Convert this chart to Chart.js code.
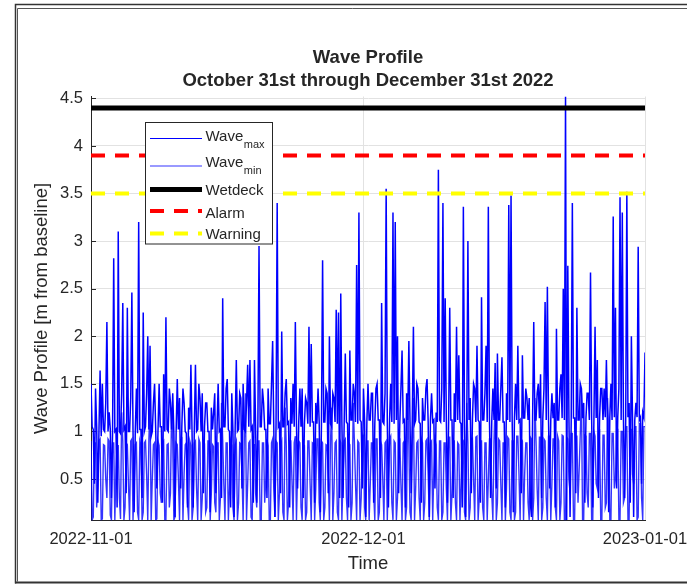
<!DOCTYPE html>
<html>
<head>
<meta charset="utf-8">
<script src="https://cdn.jsdelivr.net/npm/chart.js@4.4.1/dist/chart.umd.min.js"></script>
<style>
  html, body { margin: 0; padding: 0; background: #fff; }
  #wrap { width: 687px; height: 587px; }
</style>
</head>
<body>
<div id="wrap"><canvas id="grafico-ondas" width="687" height="587"></canvas></div>
<script>
// amostragem a cada 3 h, dia 0 = 2022-11-01
const horasAmostra = 3;
const xMin = 0, xMax = 61;
const xTickValues = [0, 30, 61];
const xTickLabels = ["2022-11-01", "2022-12-01", "2023-01-01"];
const yTickValues = [0.5, 1, 1.5, 2, 2.5, 3, 3.5, 4, 4.5];
const yTickLabels = ["0.5", "1", "1.5", "2", "2.5", "3", "3.5", "4", "4.5"];

const titulo = ["Wave Profile", "October 31st through December 31st 2022"];
const tituloX = "Time";
const tituloY = "Wave Profile [m from baseline]";

const legendaNomes = ["Wave", "Wave", "Wetdeck", "Alarm", "Warning"];
const legendaSub = ["max", "min", "", "", ""];

const wetdeck = 4.4;
const alarm = 3.9;
const warning = 3.5;

const waveMax = [
  1.50, 1.05, 1.02, 0.45, 1.45, 1.05, 0.25, 1.00, 1.64, 0.95,
  1.50, 1.02, 1.00, 1.30, 2.15, 1.00, 1.20, 1.02, 0.30, 1.00,
  2.82, 1.00, 1.02, 0.20, 3.10, 1.00, 0.98, 1.40, 2.35, 1.02,
  1.05, 0.35, 2.30, 1.00, 1.00, 1.35, 2.46, 1.02, 0.15, 1.00,
  1.45, 0.98, 3.20, 1.02, 1.02, 0.30, 2.25, 1.00, 1.05, 1.40,
  2.00, 1.02, 1.90, 0.95, 1.00, 1.30, 1.50, 1.02, 0.40, 1.00,
  1.50, 1.05, 1.05, 0.25, 1.60, 1.00, 2.20, 1.02, 1.00, 1.45,
  1.30, 1.02, 1.40, 0.98, 0.10, 1.00, 1.55, 1.02, 1.35, 0.40,
  1.05, 1.45, 1.30, 1.00, 0.98, 0.20, 1.25, 1.02, 1.70, 1.00,
  0.20, 1.02, 1.70, 1.00, 1.02, 1.50, 1.35, 1.00, 1.40, 0.35,
  1.05, 1.30, 1.30, 1.00, 1.00, 0.15, 1.25, 1.02, 1.20, 1.40,
  0.35, 1.02, 1.50, 1.00, 1.02, 0.30, 2.40, 1.05, 1.05, 1.45,
  1.55, 1.02, 1.00, 0.20, 1.40, 1.02, 0.10, 1.05, 1.75, 1.00,
  1.02, 1.40, 1.35, 0.40, 1.50, 1.02, 1.00, 1.30, 1.70, 1.05,
  1.75, 1.02, 1.05, 0.25, 1.75, 1.05, 0.25, 1.08, 2.95, 1.05,
  1.05, 1.45, 1.30, 1.02, 1.02, 0.30, 1.45, 1.08, 1.08, 1.50,
  1.95, 1.05, 0.10, 1.08, 3.40, 1.05, 1.08, 0.35, 2.05, 1.05,
  1.05, 1.40, 1.55, 1.08, 1.10, 0.20, 1.35, 1.08, 1.50, 1.05,
  2.15, 1.08, 0.40, 1.10, 1.45, 1.05, 1.45, 0.30, 1.08, 1.35,
  1.30, 1.08, 2.10, 1.05, 1.92, 1.10, 1.10, 0.25, 1.30, 1.08,
  1.45, 1.10, 0.15, 1.08, 2.80, 1.10, 1.10, 1.45, 1.40, 0.35,
  2.00, 1.08, 1.05, 1.40, 1.35, 1.10, 2.28, 1.08, 2.25, 0.30,
  2.45, 1.10, 0.30, 1.08, 1.82, 1.10, 1.08, 0.20, 1.85, 1.12,
  1.12, 1.50, 1.40, 1.10, 2.75, 1.08, 3.30, 1.12, 1.10, 0.40,
  1.45, 1.12, 0.10, 1.10, 1.50, 1.12, 1.12, 1.40, 1.40, 0.25,
  1.08, 1.45, 1.50, 1.12, 1.12, 0.30, 2.35, 1.10, 1.08, 1.40,
  3.55, 1.10, 0.20, 1.12, 1.50, 1.10, 3.30, 1.08, 3.20, 1.12,
  2.00, 0.35, 1.08, 1.45, 1.85, 1.10, 1.12, 0.20, 1.40, 1.12,
  1.95, 1.10, 0.35, 1.12, 2.10, 1.08, 1.12, 1.50, 1.45, 1.10,
  1.08, 0.25, 1.35, 1.12, 1.12, 1.45, 1.55, 1.10, 0.10, 1.12,
  1.40, 1.10, 1.12, 0.40, 1.20, 1.10, 3.75, 1.12, 1.10, 1.45,
  3.40, 1.10, 2.40, 1.12, 0.25, 1.10, 2.30, 1.12, 1.12, 0.30,
  1.40, 1.10, 2.10, 1.12, 1.80, 1.10, 1.08, 0.20, 3.36, 1.12,
  0.10, 1.10, 3.00, 1.12, 1.35, 0.35, 1.12, 1.50, 1.45, 1.10,
  1.90, 1.12, 1.10, 0.25, 2.41, 1.12, 1.12, 1.40, 1.90, 1.10,
  3.36, 1.12, 0.30, 1.10, 1.45, 1.12, 1.72, 0.40, 1.82, 1.12,
  1.12, 1.45, 1.78, 1.10, 1.10, 0.20, 1.40, 1.12, 3.38, 1.10,
  3.48, 1.12, 0.15, 1.14, 1.50, 1.12, 1.90, 1.10, 1.12, 0.35,
  1.80, 1.14, 1.14, 1.45, 1.35, 1.12, 1.35, 0.25, 0.10, 1.14,
  2.15, 1.12, 1.12, 1.40, 1.50, 1.14, 1.60, 0.30, 1.14, 1.45,
  2.36, 1.12, 2.52, 1.14, 0.40, 1.12, 1.40, 1.14, 1.30, 0.20,
  2.08, 1.12, 1.12, 1.45, 1.60, 1.14, 2.50, 1.12, 4.52, 0.07,
  2.74, 1.14, 0.10, 1.12, 3.40, 1.14, 1.14, 0.35, 2.30, 1.12,
  1.12, 1.50, 1.45, 1.14, 1.30, 0.25, 1.14, 1.40, 1.40, 1.12,
  2.67, 1.14, 0.20, 1.12, 2.10, 1.14, 1.75, 0.30, 1.14, 1.45,
  1.45, 1.12, 1.45, 1.15, 1.75, 1.12, 0.15, 1.15, 1.50, 1.12,
  3.26, 1.15, 2.30, 0.40, 1.15, 1.45, 3.46, 1.12, 3.30, 1.15,
  0.30, 1.12, 3.52, 1.15, 1.30, 0.25, 2.00, 1.15, 0.10, 1.12,
  1.30, 1.15, 2.94, 1.12, 1.15, 0.45, 1.20, 1.15, 1.83
];

const waveMin = [
  0.90, 0.07, 0.10, 0.88, 0.88, 0.20, 0.45, 0.90, 0.92, 0.07,
  0.08, 0.86, 0.85, 0.50, 0.30, 0.92, 0.90, 0.12, 0.07, 0.88,
  0.88, 0.07, 0.60, 0.85, 0.85, 0.30, 0.08, 1.20, 0.90, 0.07,
  0.20, 0.88, 0.86, 0.45, 0.07, 0.90, 0.92, 0.07, 0.40, 0.86,
  0.88, 0.15, 0.07, 0.90, 0.85, 0.07, 0.15, 0.88, 0.90, 0.55,
  0.07, 0.92, 1.30, 0.07, 0.50, 0.86, 0.88, 0.07, 0.08, 0.90,
  0.85, 0.35, 0.25, 0.88, 0.90, 0.07, 0.07, 0.86, 0.87, 0.20,
  0.35, 1.25, 0.90, 0.07, 0.10, 0.88, 0.86, 0.50, 0.07, 0.90,
  0.92, 0.07, 0.55, 0.86, 0.88, 0.25, 0.07, 0.90, 0.85, 0.07,
  0.20, 0.88, 0.90, 0.40, 0.07, 0.92, 0.88, 0.07, 0.30, 0.85,
  0.86, 0.15, 0.20, 0.90, 0.90, 0.07, 0.35, 0.86, 0.84, 0.25,
  0.15, 0.88, 0.88, 0.07, 0.30, 1.30, 0.92, 0.45, 0.07, 0.88,
  0.88, 0.07, 0.40, 0.90, 0.85, 0.20, 0.07, 0.86, 0.90, 0.07,
  0.25, 0.88, 0.87, 0.55, 0.07, 0.90, 1.40, 0.07, 0.45, 0.88,
  0.90, 0.10, 0.07, 0.86, 0.86, 0.35, 0.20, 0.90, 0.90, 0.07,
  0.07, 0.88, 0.88, 0.25, 0.50, 0.92, 0.85, 0.07, 0.07, 0.88,
  0.92, 0.40, 0.10, 0.90, 0.88, 0.07, 0.35, 0.86, 0.90, 0.15,
  0.07, 1.25, 0.86, 0.07, 0.25, 0.90, 0.90, 0.50, 0.07, 0.88,
  0.95, 0.07, 0.60, 0.90, 0.88, 0.20, 0.07, 0.86, 0.85, 0.07,
  0.15, 0.90, 0.90, 0.45, 0.07, 0.88, 0.87, 0.07, 0.40, 0.92,
  0.92, 0.25, 0.07, 0.90, 0.88, 0.07, 0.20, 0.86, 0.85, 0.55,
  0.07, 0.90, 1.25, 0.07, 0.35, 0.88, 0.90, 0.15, 0.07, 0.92,
  0.88, 0.07, 0.50, 0.90, 0.92, 0.30, 0.07, 0.88, 0.86, 0.07,
  0.25, 1.30, 0.90, 0.45, 0.07, 0.90, 0.88, 0.07, 0.30, 0.92,
  0.95, 0.20, 0.07, 0.90, 0.90, 0.07, 0.45, 0.88, 0.88, 0.35,
  0.07, 0.92, 0.92, 0.07, 0.15, 0.90, 0.86, 0.50, 0.07, 0.88,
  0.90, 0.07, 0.55, 0.92, 0.95, 0.25, 0.07, 0.90, 0.88, 0.07,
  0.30, 0.92, 0.92, 0.45, 0.07, 0.88, 0.90, 0.07, 0.20, 1.35,
  0.86, 0.15, 0.07, 0.90, 1.35, 0.07, 0.40, 0.88, 0.90, 0.30,
  0.07, 0.92, 0.88, 0.07, 0.25, 0.90, 0.92, 0.55, 0.07, 0.88,
  0.90, 0.07, 0.60, 0.92, 0.86, 0.20, 0.07, 0.90, 0.90, 0.07,
  0.15, 0.88, 0.88, 0.40, 0.07, 0.94, 0.94, 0.07, 0.35, 0.90,
  0.90, 0.25, 0.07, 0.88, 0.86, 0.07, 0.45, 0.92, 0.90, 0.15,
  0.07, 1.30, 0.88, 0.07, 0.20, 0.90, 0.92, 0.50, 0.07, 0.94,
  0.95, 0.07, 0.30, 0.90, 0.90, 0.20, 0.07, 0.88, 0.88, 0.07,
  0.50, 0.92, 0.92, 0.35, 0.07, 0.90, 1.30, 0.07, 0.25, 0.92,
  0.90, 0.45, 0.07, 0.88, 0.88, 0.07, 0.40, 0.94, 0.92, 0.15,
  0.07, 0.90, 0.90, 0.07, 0.15, 0.95, 0.95, 0.55, 0.07, 0.92,
  0.90, 0.07, 0.55, 0.88, 0.88, 0.25, 0.07, 0.94, 0.92, 0.07,
  0.30, 1.35, 0.90, 0.40, 0.07, 0.94, 0.94, 0.07, 0.20, 0.92,
  0.90, 0.30, 0.07, 0.95, 0.95, 0.07, 0.45, 0.92, 0.92, 0.20,
  0.07, 0.95, 0.90, 0.07, 0.25, 0.96, 0.95, 0.07, 0.07, 0.94,
  0.92, 0.50, 0.35, 0.98, 0.98, 0.07, 0.07, 0.95, 0.95, 0.25,
  0.60, 0.98, 1.40, 0.07, 0.07, 0.96, 0.95, 0.35, 0.20, 0.98,
  0.98, 0.07, 0.07, 1.00, 0.95, 0.45, 0.40, 0.98, 1.00, 0.07,
  0.07, 0.96, 0.96, 0.20, 0.25, 1.35, 1.00, 0.07, 0.07, 0.98,
  0.98, 0.40, 0.50, 1.02, 1.02, 0.07, 0.07, 1.00, 1.00, 0.25,
  0.30, 1.05, 1.05, 0.07, 0.07, 1.02, 1.02, 0.55, 0.45, 1.05,
  1.05, 0.07, 0.10, 1.08, 1.08, 0.30, 0.07, 1.05, 1.05
];

const fonte = "'Liberation Sans', Arial, Helvetica, sans-serif";
const corTexto = "#262626";
const corGrade = "#e2e2e2";

const tempos = waveMax.map((_, i) => i * horasAmostra / 24);

function serie(valores) {
  return valores.map((v, i) => ({ x: tempos[i], y: v }));
}

function linha(nivel) {
  return [{ x: xMin, y: nivel }, { x: xMax, y: nivel }];
}

// estilos da legenda (o traço dos dados no gráfico é um pouco mais grosso)
const estilos = [
  { cor: "#0000ff", largura: 1, traco: [] },
  { cor: "rgba(0,0,255,0.8)", largura: 1, traco: [] },
  { cor: "#000000", largura: 5, traco: [] },
  { cor: "#ff0000", largura: 4, traco: [14, 10] },
  { cor: "#ffff00", largura: 4, traco: [14, 10] }
];

const molduraPlugin = {
  id: "moldura",
  beforeDraw(chart) {
    const c = chart.ctx;
    c.save();
    c.fillStyle = "#fff";
    c.fillRect(0, 0, chart.width, chart.height);
    c.restore();
  },
  beforeDatasetsDraw(chart) {
    const c = chart.ctx;
    const area = chart.chartArea;
    const y = chart.scales.y;
    c.save();
    c.strokeStyle = corTexto;
    c.lineWidth = 1;
    yTickValues.forEach(v => {
      const py = Math.round(y.getPixelForValue(v)) + 0.5;
      c.beginPath();
      c.moveTo(area.left, py);
      c.lineTo(area.left + 5, py);
      c.stroke();
    });
    c.restore();
  },
  afterDraw(chart) {
    const c = chart.ctx;
    const area = chart.chartArea;
    const cx = (area.left + area.right) / 2;
    const cy = (area.top + area.bottom) / 2;

    c.save();
    c.fillStyle = corTexto;
    c.textAlign = "center";
    c.textBaseline = "middle";
    c.font = `bold 18.5px ${fonte}`;
    c.fillText(titulo[0], cx, 57.5);
    c.fillText(titulo[1], cx, 80.5);
    c.font = `18.5px ${fonte}`;
    c.fillText(tituloX, cx, 564);
    c.translate(42, cy);
    c.rotate(-Math.PI / 2);
    c.fillText(tituloY, 0, 0);
    c.restore();

    // legenda
    const lx = 145.5, ly = 122.5, lw = 127, lh = 121.5;
    const linhasY = [138.5, 166, 189.5, 211, 233.5];
    const baseTexto = [140.5, 166.5, 195, 217.5, 239];
    c.save();
    c.fillStyle = "#fff";
    c.fillRect(lx, ly, lw, lh);
    c.strokeStyle = corTexto;
    c.lineWidth = 1;
    c.strokeRect(lx, ly, lw, lh);
    legendaNomes.forEach((nome, i) => {
      const est = estilos[i];
      c.strokeStyle = est.cor;
      c.lineWidth = est.largura;
      c.setLineDash(est.traco);
      c.beginPath();
      c.moveTo(150, linhasY[i]);
      c.lineTo(202, linhasY[i]);
      c.stroke();
      c.setLineDash([]);
      c.fillStyle = corTexto;
      c.textAlign = "left";
      c.textBaseline = "alphabetic";
      c.font = `15px ${fonte}`;
      c.fillText(nome, 205.5, baseTexto[i]);
      if (legendaSub[i]) {
        const w = c.measureText(nome).width;
        c.font = `11px ${fonte}`;
        c.fillText(legendaSub[i], 205.5 + w + 0.5, baseTexto[i] + 7.5);
      }
    });
    c.restore();

    // moldura da figura
    c.save();
    c.strokeStyle = "#333";
    c.lineWidth = 1.5;
    c.beginPath();
    c.moveTo(15.5, 583.5);
    c.lineTo(15.5, 4.5);
    c.lineTo(687, 4.5);
    c.stroke();
    c.strokeStyle = "#555";
    c.lineWidth = 1;
    c.beginPath();
    c.moveTo(17.5, 581.5);
    c.lineTo(17.5, 8.5);
    c.lineTo(687, 8.5);
    c.stroke();
    c.strokeStyle = "#333";
    c.lineWidth = 2;
    c.beginPath();
    c.moveTo(15, 582.5);
    c.lineTo(687, 582.5);
    c.stroke();
    c.restore();
  }
};

const ctx = document.getElementById("grafico-ondas").getContext("2d");

new Chart(ctx, {
  type: "line",
  data: {
    datasets: [
      { label: "Warning", data: linha(warning), borderColor: estilos[4].cor, borderWidth: estilos[4].largura, borderDash: estilos[4].traco, order: 0 },
      { label: "Alarm", data: linha(alarm), borderColor: estilos[3].cor, borderWidth: estilos[3].largura, borderDash: estilos[3].traco, order: 1 },
      { label: "Wetdeck", data: linha(wetdeck), borderColor: estilos[2].cor, borderWidth: estilos[2].largura, order: 2 },
      { label: "Wave min", data: serie(waveMin), borderColor: estilos[1].cor, borderWidth: 1.4, order: 3 },
      { label: "Wave max", data: serie(waveMax), borderColor: estilos[0].cor, borderWidth: 1.5, order: 4 }
    ]
  },
  options: {
    responsive: false,
    animation: false,
    devicePixelRatio: 1,
    layout: { padding: { top: 96.5, right: 42, left: 0, bottom: 0 } },
    elements: { point: { radius: 0 }, line: { tension: 0 } },
    plugins: {
      legend: { display: false },
      title: { display: false },
      tooltip: { enabled: false }
    },
    scales: {
      x: {
        type: "linear",
        min: xMin,
        max: xMax,
        afterBuildTicks: s => { s.ticks = xTickValues.map(v => ({ value: v })); },
        afterFit: s => { s.height = 66.7; s.paddingLeft = 0; s.paddingRight = 0; },
        ticks: {
          callback: (v, i) => xTickLabels[i],
          font: { family: fonte, size: 16.5 },
          color: corTexto,
          padding: 9,
          maxRotation: 0,
          autoSkip: false
        },
        grid: { color: corGrade, drawTicks: false },
        border: { display: true, color: corTexto, width: 1 }
      },
      y: {
        min: 0.066,
        max: 4.52,
        afterBuildTicks: s => { s.ticks = yTickValues.map(v => ({ value: v })); },
        afterFit: s => { s.width = 91; s.paddingTop = 0; s.paddingBottom = 0; },
        ticks: {
          callback: (v, i) => yTickLabels[i],
          font: { family: fonte, size: 16.5 },
          color: corTexto,
          padding: 8,
          autoSkip: false
        },
        grid: { color: corGrade, drawTicks: false },
        border: { display: true, color: corTexto, width: 1 }
      }
    }
  },
  plugins: [molduraPlugin]
});
</script>
</body>
</html>
